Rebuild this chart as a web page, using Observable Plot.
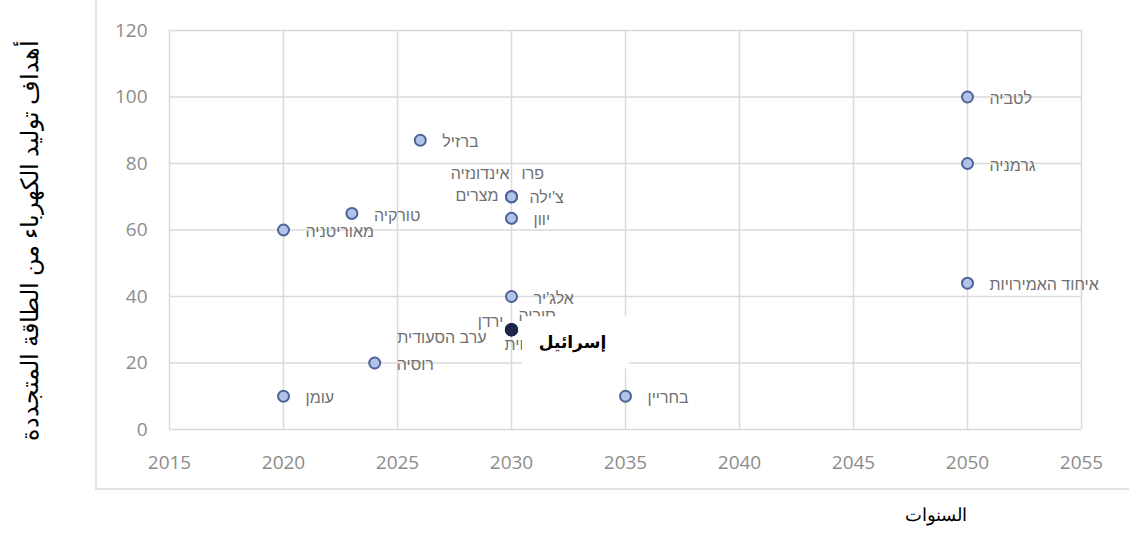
<!DOCTYPE html>
<html>
<head>
<meta charset="utf-8">
<script src="https://cdn.jsdelivr.net/npm/d3@7"></script>
<script src="https://cdn.jsdelivr.net/npm/@observablehq/plot@0.6"></script>
<style>
  html, body { margin: 0; padding: 0; background: #fff; }
  #wrap { position: relative; width: 1129px; height: 548px; overflow: hidden; }
  #frame { position: absolute; left: 95px; top: -5px; width: 1100px; height: 493px;
           border-left: 2px solid #e3e3e3; border-bottom: 2px solid #e3e3e3; pointer-events: none; }
</style>
</head>
<body>
<div id="wrap"><div id="frame"></div></div>
<script>
// ---- data ----
const countries = ["לטביה","גרמניה","איחוד האמירויות","ברזיל","פרו","אינדונזיה","צ'ילה","מצרים","יוון","טורקיה","מאוריטניה","אלג'יר","סוריה","ירדן","ערב הסעודית","כווית","רוסיה","עומן","בחריין"];
const years     = [2050,2050,2050,2026,2030,2030,2030,2030,2030,2023,2020,2030,2030,2030,2030,2030,2024,2020,2035];
const targets   = [100,80,44,87,70,70,70,70,63.5,65,60,40,30,30,30,30,20,10,10];
const israelName = "إسرائيل";
const israelYear = 2030;
const israelTarget = 30;
const xTicks = [2015,2020,2025,2030,2035,2040,2045,2050,2055];
const yTicks = [0,20,40,60,80,100,120];
const xLabel = "السنوات";
const yLabel = "أهداف توليد الكهرباء من الطاقة المتجددة";

// ---- build ----
const rows = countries.map((c,i) => ({name: c, year: years[i], target: targets[i]}));
const israel = [{name: israelName, year: israelYear, target: israelTarget}];

// label placement (offset from the point, text anchor)
const place = {
  "פרו": [10, -23, "start"],
  "אינדונזיה": [-2, -23, "end"],
  "צ'ילה": [18, 1, "start"],
  "מצרים": [-13, -1, "end"],
  "סוריה": [7, -14, "start"],
  "ירדן": [-8, -8, "end"],
  "ערב הסעודית": [-25, 8, "end"],
  "כווית": [-7, 15, "start"]
};
const hebFont = "'Liberation Sans', Arial, 'DejaVu Sans', sans-serif";
const labelMarks = rows.map(r => {
  const [dx, dy, anchor] = place[r.name] || [22, 2, "start"];
  return Plot.text([r], {x: "year", y: "target", text: "name", dx, dy, textAnchor: anchor,
    fill: "#707070", fontSize: 16, fontFamily: hebFont});
});

const whiteBox = (index, scales) => {
  const x0 = scales.x(israelYear), y0 = scales.y(israelTarget);
  const g = d3.create("svg:g");
  g.append("rect").attr("x", x0 + 11).attr("y", y0 - 13).attr("width", 107).attr("height", 52).attr("fill", "white");
  return g.node();
};

const chart = Plot.plot({
  width: 1129, height: 548,
  marginLeft: 169, marginRight: 48, marginTop: 30, marginBottom: 119,
  style: {fontFamily: "'Open Sans', sans-serif", fontSize: "19px", color: "#8c8c8c", background: "transparent", overflow: "visible"},
  x: {domain: [2015, 2055], ticks: xTicks, tickFormat: "d", tickSize: 0, tickPadding: 26, label: null},
  y: {domain: [0, 120], ticks: yTicks, tickSize: 0, tickPadding: 22, label: null},
  marks: [
    Plot.ruleX(xTicks, {stroke: "#dadada", strokeWidth: 1.5}),
    Plot.ruleY(yTicks, {stroke: "#dadada", strokeWidth: 1.5}),
    Plot.dot(rows, {x: "year", y: "target", r: 5.5, fill: "#b2c3e8", stroke: "#4f6299", strokeWidth: 2}),
    ...labelMarks,
    Plot.dot(israel, {x: "year", y: "target", r: 6, fill: "#1b2747", stroke: "#1b2747"}),
    whiteBox,
    Plot.text(israel, {x: "year", y: "target", text: "name", dx: 61, dy: 13, fill: "black", fontWeight: "bold",
      fontSize: 17, fontFamily: "Arial, 'Liberation Sans', 'DejaVu Sans', sans-serif"}),
    Plot.text([yLabel], {frameAnchor: "left", textAnchor: "middle", text: d => d, rotate: -90, dx: -139, dy: 10, fill: "black",
      fontSize: 24, fontWeight: 300, fontFamily: "'Liberation Serif', 'DejaVu Serif', serif"}),
    Plot.text([xLabel], {frameAnchor: "bottom", textAnchor: "middle", text: d => d, dx: 310, dy: 91, fill: "black",
      fontSize: 18, fontFamily: "'Liberation Serif', 'DejaVu Serif', serif"})
  ]
});
document.getElementById("wrap").prepend(chart);
</script>
</body>
</html>
